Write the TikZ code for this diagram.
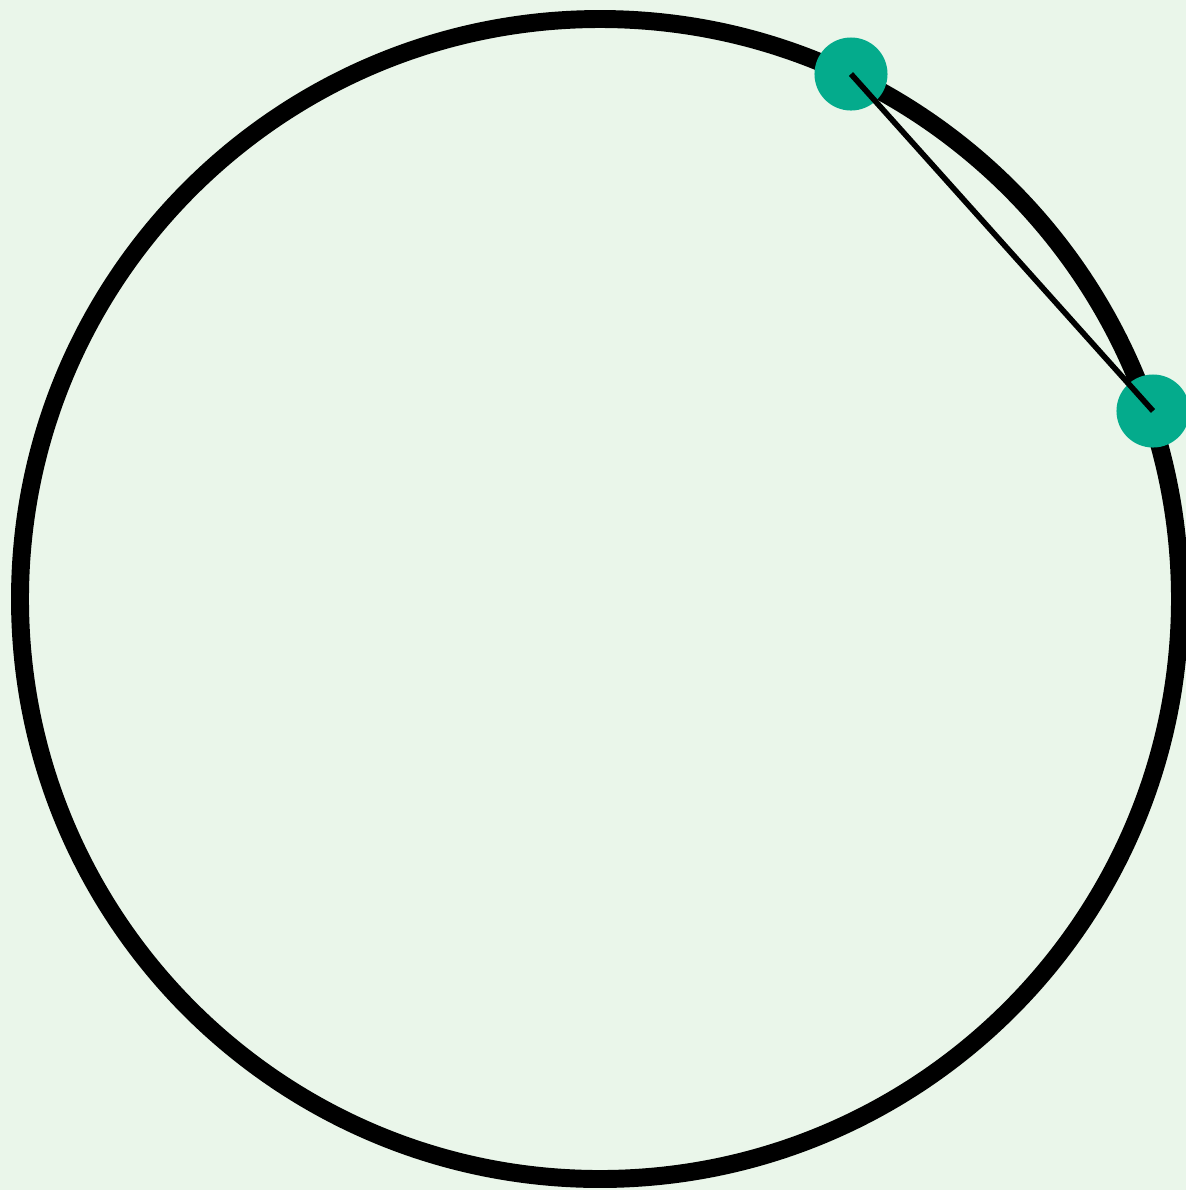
\documentclass[tikz,border=0pt]{standalone}
\definecolor{paleground}{HTML}{EAF6EA}
\definecolor{chordteal}{HTML}{04AB8C}
\tikzset{
    rim/.style={line width=5.1pt, black},
    endpt/.style={circle, fill=chordteal, minimum size=0.73cm, inner sep=0pt},
    chord/.style={line width=1.6pt, black}
}
\begin{document}
\begin{tikzpicture}[x=0.01cm, y=-0.01cm]
    \fill[paleground] (0,0) rectangle (1186,1190);
    \useasboundingbox (0,0) rectangle (1186,1190);
    \clip (0,0) rectangle (1186,1190);
    % the circle
    \coordinate (o) at (600,599);
    \draw[rim] (o) circle[radius=580];
    % chord end points
    \node[endpt] (p) at (851,74) {};
    \node[endpt] (q) at (1153,411) {};
    \draw[chord] (p.center) -- (q.center);
\end{tikzpicture}
\end{document}
